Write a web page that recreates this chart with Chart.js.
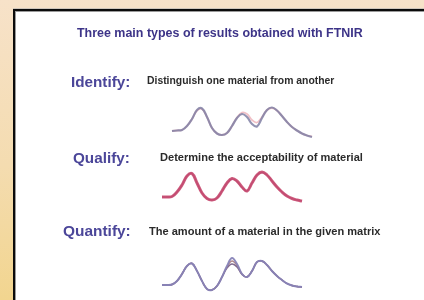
<!DOCTYPE html>
<html>
<head>
<meta charset="utf-8">
<script src="https://cdn.jsdelivr.net/npm/chart.js@4"></script>
<style>
  html, body { margin: 0; padding: 0; }
  body {
    width: 424px; height: 300px; overflow: hidden; position: relative;
    background: linear-gradient(180deg, #f7e2c9 0%, #f4dcb0 55%, #f2d58f 100%);
    font-family: "Liberation Sans", Arial, sans-serif;
  }
  .frame {
    position: absolute; left: 13px; top: 9px; right: -10px; bottom: -10px;
    background: #fff; border: 2px solid #0b0b0b;
    box-shadow: 0 -1px 0 #cfc6bc, inset 1px 1px 0 #9a9a9a;
  }
  .t { position: absolute; white-space: nowrap; font-weight: bold; line-height: 1; filter: blur(0.4px); }
  .title { color: #3d3488; }
  .label { color: #4b4699; }
  .desc { color: #2b2b2b; }
  canvas { position: absolute; filter: blur(0.4px); }
</style>
</head>
<body>
<div class="frame"></div>

<span class="t title" data-x="77" data-y="33" data-w="286" data-s="10.5">Three main types of results obtained with FTNIR</span>

<span class="t label" data-x="71" data-y="81" data-w="59" data-s="15">Identify:</span>
<span class="t desc" data-x="147" data-y="81" data-w="188" data-s="9">Distinguish one material from another</span>

<span class="t label" data-x="73" data-y="157" data-w="57" data-s="15">Qualify:</span>
<span class="t desc" data-x="160" data-y="157" data-w="203" data-s="9">Determine the acceptability of material</span>

<span class="t label" data-x="63" data-y="230" data-w="68" data-s="15">Quantify:</span>
<span class="t desc" data-x="149" data-y="231" data-w="232" data-s="9">The amount of a material in the given matrix</span>

<canvas id="identifyChart" width="150" height="40" style="left:167px; top:102px"></canvas>
<canvas id="qualifyChart" width="150" height="40" style="left:157px; top:166px"></canvas>
<canvas id="quantifyChart" width="150" height="40" style="left:157px; top:252px"></canvas>

<script>
// spectrum samples (index along wavelength)
const samples = [0,1,2,3,4,5,6,7,8,9,10,11,12,13,14,15,16,17,18,19,20,21,22,23,24,25,26,27,28];

// Identify: two different materials
const identifyA = [6,6.5,7,11,18,27,28.5,20,9,3.5,2,4,11,19,23,20,13,10.5,19,27,29.5,26.5,21,15,10,6.5,3.5,1.5,0];
const identifyB = [6,6.5,7,11,18,26.5,28,20,9,3.5,2,4,11,19.5,24.5,23,17,14.5,20,27,29,26.5,21,15,10,6.5,3.5,1.5,0.5];

// Qualify: sample vs reference, nearly identical
const qualifyA = [4,4,4.5,9,16,25,27.5,18,8,2.5,1,3,10,18,22.5,20,14,10,18,26,29,26,20,14,9,5,2.5,1,0];
const qualifyB = [4,4,4.5,9,16,25,27.5,18,8,2.5,1,3,10,18,22,19.5,13.5,10,18,26,28.5,26,20,14,9,5,2.5,1,0];

// Quantify: peak height changes with concentration
const quantifyA = [2,2,2.5,6,13,21,23.5,16,6,-2,-3,1,10,21,29,23,13,10,16,25,26,22,16,11,7,3.5,1.5,0.5,0];
const quantifyB = [2,2,2.5,6,13,21,23.5,16,6,-2,-3,1,10,20,26,21.5,13,10,16,25,26,22,16,11,7,3.5,1.5,0.5,0];
const quantifyC = [2,2,2.5,6,13,21,23.5,16,6,-2,-3,1,10,19,23,20,12.5,10,16,25,26,22,16,11,7,3.5,1.5,0.5,0];

// fit text to the widths measured on the slide
document.querySelectorAll(".t").forEach(el => {
  const size = parseFloat(el.dataset.s);
  el.style.fontSize = size + "px";
  const w = el.offsetWidth;
  const fitted = size * parseFloat(el.dataset.w) / w;
  el.style.fontSize = fitted.toFixed(2) + "px";
  el.style.left = el.dataset.x + "px";
  el.style.top = (parseFloat(el.dataset.y) - el.offsetHeight / 2) + "px";
});

const toPoints = (values) => values.map((v, i) => ({ x: samples[i], y: v }));

function spectrumChart(id, series) {
  new Chart(document.getElementById(id), {
    type: "line",
    data: {
      datasets: series.map(s => ({
        data: toPoints(s.values),
        borderColor: s.color,
        borderWidth: s.width,
        pointRadius: 0,
        fill: false,
        tension: 0.4
      }))
    },
    options: {
      responsive: false,
      animation: false,
      events: [],
      layout: { padding: 0 },
      plugins: { legend: { display: false }, tooltip: { enabled: false } },
      scales: {
        x: { type: "linear", display: false, min: -1, max: 29 },
        y: { display: false, min: -5, max: 35 }
      }
    }
  });
}

spectrumChart("identifyChart", [
  { values: identifyA, color: "rgba(128,128,164,0.85)", width: 2.2 },
  { values: identifyB, color: "rgba(232,150,160,0.6)", width: 1.8 }
]);

spectrumChart("qualifyChart", [
  { values: qualifyA, color: "rgba(200,72,110,0.9)", width: 3 },
  { values: qualifyB, color: "rgba(112,58,112,0.75)", width: 1.3 }
]);

spectrumChart("quantifyChart", [
  { values: quantifyA, color: "rgba(136,132,184,0.95)", width: 2 },
  { values: quantifyB, color: "rgba(150,96,100,0.75)", width: 1.4 },
  { values: quantifyC, color: "rgba(96,70,116,0.8)", width: 1.4 }
]);
</script>
</body>
</html>
